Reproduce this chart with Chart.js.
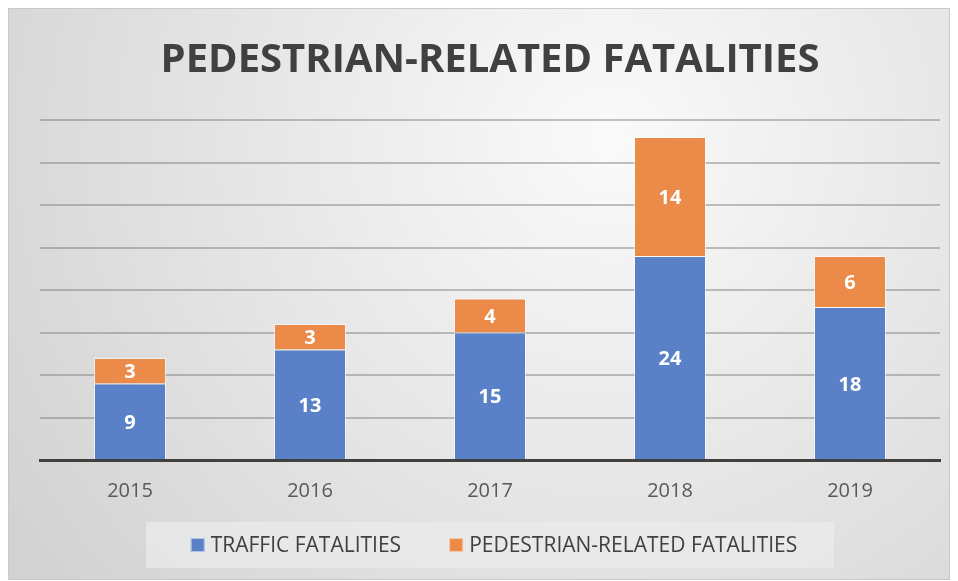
<!DOCTYPE html>
<html>
<head>
<meta charset="utf-8">
<script src="https://cdn.jsdelivr.net/npm/chart.js@4/dist/chart.umd.min.js"></script>
<style>
	body { margin: 8px; background: #fff; }
	#wrap { width: 940px; height: 570px; border: 1px solid #c9c9c9; }
</style>
</head>
<body>
<div id="wrap"><canvas id="chart" width="940" height="570"></canvas></div>
<script>
const years = ['2015', '2016', '2017', '2018', '2019'];
const traffic = [9, 13, 15, 24, 18];
const pedestrian = [3, 3, 4, 14, 6];
const titleText = 'PEDESTRIAN-RELATED FATALITIES';

// grey gradient behind everything
const backdrop = {
	id: 'backdrop',
	beforeDraw(chart) {
		const c = chart.ctx;
		const g = c.createRadialGradient(600, 130, 20, 600, 130, 720);
		g.addColorStop(0, '#f9f9f9');
		g.addColorStop(1, '#d2d2d2');
		c.save();
		c.fillStyle = g;
		c.fillRect(0, 0, chart.width, chart.height);
		c.restore();
	}
};

// legend in a light box under the axis (built-in one wastes too much room)
const boxLegend = {
	id: 'boxLegend',
	afterDraw(chart) {
		const c = chart.ctx;
		const area = chart.chartArea;
		const mid = (area.left + area.right) / 2;
		const y = chart.height - 34;
		c.save();
		c.fillStyle = 'rgba(235,235,235,0.75)';
		c.fillRect(mid - 344, y - 23, 688, 46);
		c.font = '21px "Open Sans"';
		c.textBaseline = 'middle';
		const sets = chart.data.datasets;
		const widths = sets.map(ds => 20 + c.measureText(ds.label).width);
		const total = widths.reduce((a, b) => a + b, 0) + 48 * (sets.length - 1);
		let x = mid + 4 - total / 2;
		sets.forEach((ds, i) => {
			c.fillStyle = ds.backgroundColor;
			c.fillRect(x, y - 7, 14, 14);
			c.strokeStyle = 'rgba(255,255,255,0.55)';
			c.lineWidth = 1;
			c.strokeRect(x + 0.5, y - 6.5, 13, 13);
			c.fillStyle = '#404040';
			c.fillText(ds.label, x + 20, y + 1);
			x += widths[i] + 48;
		});
		c.restore();
	}
};

// numbers in the middle of each bar piece
const barLabels = {
	id: 'barLabels',
	afterDatasetsDraw(chart) {
		const c = chart.ctx;
		c.save();
		c.fillStyle = '#fff';
		c.font = 'bold 20px "Open Sans"';
		c.textAlign = 'center';
		c.textBaseline = 'middle';
		chart.data.datasets.forEach((ds, i) => {
			chart.getDatasetMeta(i).data.forEach((bar, j) => {
				c.fillText(ds.data[j], bar.x, (bar.y + bar.base) / 2 + 2);
			});
		});
		c.restore();
	}
};

new Chart(document.getElementById('chart'), {
	type: 'bar',
	data: {
		labels: years,
		datasets: [{
			label: 'TRAFFIC FATALITIES',
			data: traffic,
			backgroundColor: '#5a80c8',
			borderColor: 'rgba(255,255,255,0.55)',
			borderWidth: 1
		}, {
			label: 'PEDESTRIAN-RELATED FATALITIES',
			data: pedestrian,
			backgroundColor: '#ec8a49',
			borderColor: 'rgba(255,255,255,0.55)',
			borderWidth: 1
		}]
	},
	options: {
		responsive: false,
		animation: false,
		layout: { padding: { left: 31, right: 9, top: 0, bottom: 57 } },
		datasets: { bar: { barPercentage: 0.4, categoryPercentage: 1 } },
		scales: {
			x: {
				stacked: true,
				grid: { display: false, drawTicks: false },
				border: { display: true, color: '#404040', width: 3 },
				ticks: { color: '#595959', font: { family: 'Open Sans', size: 20 }, padding: 19 }
			},
			y: {
				stacked: true,
				min: 0,
				max: 40,
				ticks: { display: false, stepSize: 5 },
				border: { display: false },
				grid: { color: 'rgba(120,120,120,0.45)', lineWidth: 2, drawTicks: false }
			}
		},
		plugins: {
			title: {
				display: true,
				text: titleText,
				color: '#404040',
				font: { family: 'Open Sans', size: 40, weight: 'bold' },
				padding: { top: 28, bottom: 35 }
			},
			legend: { display: false },
			tooltip: { enabled: false }
		}
	},
	plugins: [backdrop, barLabels, boxLegend]
});
</script>
</body>
</html>
